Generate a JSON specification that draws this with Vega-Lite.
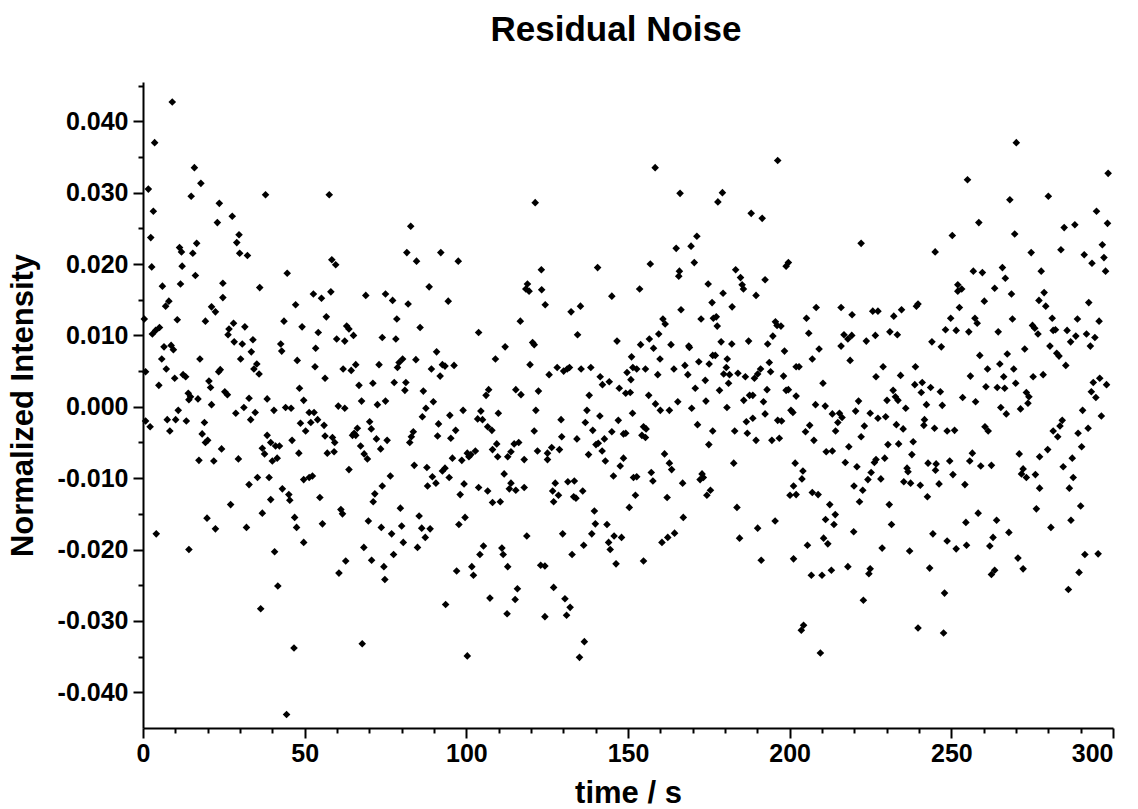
{
"$schema":"https://vega.github.io/schema/vega-lite/v6.json",
"autosize":{"type":"none"},
"padding":{"left":143,"top":82,"right":25,"bottom":81},
"width":970,"height":646,
"background":"white",
"config":{"view":{"stroke":null},"font":"Liberation Sans"},
"title":{"text":"Residual Noise","font":"Liberation Sans","fontSize":35,"fontWeight":"bold","color":"black","anchor":"middle","offset":26,"dx":-12},
"data":{"values":[
{"t":9.05,"v":0.0427},{"t":3.6,"v":0.037},{"t":15.9,"v":0.0335},{"t":17.9,"v":0.0313},{"t":14.9,"v":0.0295},{"t":1.65,"v":0.0305},{"t":23.6,"v":0.0285},{"t":3.2,"v":0.0274},{"t":23.0,"v":0.0258},{"t":2.4,"v":0.0237},{"t":11.3,"v":0.0223},{"t":11.9,"v":0.0217},{"t":16.6,"v":0.0229},{"t":15.4,"v":0.0215},{"t":2.7,"v":0.0196},{"t":12.1,"v":0.0197},{"t":16.2,"v":0.0184},{"t":11.6,"v":0.0172},{"t":6.0,"v":0.0169},{"t":24.7,"v":0.0173},{"t":24.7,"v":0.0153},{"t":8.0,"v":0.0148},{"t":7.0,"v":0.0141},{"t":21.2,"v":0.014},{"t":22.4,"v":0.0133},{"t":0.4,"v":0.0123},{"t":10.6,"v":0.0122},{"t":19.3,"v":0.012},{"t":5.1,"v":0.0111},{"t":3.9,"v":0.0107},{"t":2.9,"v":0.0102},{"t":6.5,"v":0.0084},{"t":8.7,"v":0.0086},{"t":9.4,"v":0.008},{"t":5.8,"v":0.0067},{"t":17.6,"v":0.0067},{"t":7.2,"v":0.0053},{"t":23.9,"v":0.0052},{"t":23.4,"v":0.0049},{"t":0.8,"v":0.0049},{"t":12.4,"v":0.0045},{"t":13.2,"v":0.0042},{"t":9.8,"v":0.004},{"t":4.9,"v":0.003},{"t":20.4,"v":0.0036},{"t":20.9,"v":0.0027},{"t":25.3,"v":0.0021},{"t":14.0,"v":0.0019},{"t":14.7,"v":0.0014},{"t":14.2,"v":0.001},{"t":17.0,"v":0.0011},{"t":21.2,"v":0.0003},{"t":10.9,"v":-0.0005},{"t":7.5,"v":-0.0018},{"t":10.1,"v":-0.0018},{"t":13.4,"v":-0.002},{"t":0.8,"v":-0.002},{"t":2.2,"v":-0.0028},{"t":8.3,"v":-0.0034},{"t":19.0,"v":-0.0022},{"t":18.3,"v":-0.0038},{"t":19.3,"v":-0.005},{"t":20.0,"v":-0.0047},{"t":24.3,"v":-0.0059},{"t":17.3,"v":-0.0075},{"t":21.9,"v":-0.0076},{"t":19.8,"v":-0.0156},{"t":22.4,"v":-0.0171},{"t":4.1,"v":-0.0178},{"t":14.2,"v":-0.02},
{"t":37.9,"v":0.0297},{"t":27.6,"v":0.0267},{"t":29.7,"v":0.0241},{"t":29.0,"v":0.023},{"t":29.9,"v":0.0215},{"t":32.3,"v":0.0212},{"t":44.6,"v":0.0187},{"t":36.1,"v":0.0167},{"t":47.2,"v":0.0143},{"t":43.6,"v":0.012},{"t":49.2,"v":0.0112},{"t":28.0,"v":0.0117},{"t":26.6,"v":0.0109},{"t":26.3,"v":0.0101},{"t":31.5,"v":0.0112},{"t":28.2,"v":0.0091},{"t":30.7,"v":0.0088},{"t":34.0,"v":0.0094},{"t":33.5,"v":0.0077},{"t":42.6,"v":0.0088},{"t":42.9,"v":0.0078},{"t":30.2,"v":0.0067},{"t":47.7,"v":0.0065},{"t":35.2,"v":0.006},{"t":34.3,"v":0.0053},{"t":35.9,"v":0.0046},{"t":48.4,"v":0.0026},{"t":26.1,"v":0.0017},{"t":32.8,"v":0.0012},{"t":38.4,"v":0.0011},{"t":31.2,"v":-0.0001},{"t":28.7,"v":-0.0009},{"t":34.7,"v":-0.0008},{"t":40.5,"v":-0.0005},{"t":44.1,"v":-0.0001},{"t":45.8,"v":-0.0002},{"t":49.7,"v":0.0009},{"t":33.3,"v":-0.0018},{"t":48.7,"v":-0.0023},{"t":50.3,"v":-0.0034},{"t":38.4,"v":-0.004},{"t":39.5,"v":-0.005},{"t":41.0,"v":-0.0055},{"t":42.2,"v":-0.0055},{"t":36.9,"v":-0.0058},{"t":37.6,"v":-0.0066},{"t":40.0,"v":-0.0076},{"t":41.5,"v":-0.0072},{"t":46.1,"v":-0.0047},{"t":48.2,"v":-0.0065},{"t":29.5,"v":-0.0073},{"t":49.7,"v":-0.0102},{"t":35.4,"v":-0.0099},{"t":39.0,"v":-0.0099},{"t":32.8,"v":-0.0109},{"t":43.1,"v":-0.0115},{"t":45.1,"v":-0.0123},{"t":45.4,"v":-0.0131},{"t":39.5,"v":-0.013},{"t":27.1,"v":-0.0137},{"t":36.9,"v":-0.0149},{"t":46.9,"v":-0.0155},{"t":47.5,"v":-0.0169},{"t":32.0,"v":-0.0169},{"t":49.7,"v":-0.019},{"t":40.7,"v":-0.0203},{"t":41.7,"v":-0.0251},{"t":36.4,"v":-0.0283},{"t":46.7,"v":-0.0338},{"t":44.4,"v":-0.0431},
{"t":57.6,"v":0.0297},{"t":58.4,"v":0.0206},{"t":59.6,"v":0.0199},{"t":52.7,"v":0.0158},{"t":55.2,"v":0.0152},{"t":58.1,"v":0.0161},{"t":68.9,"v":0.0156},{"t":75.0,"v":0.0158},{"t":56.7,"v":0.0126},{"t":54.2,"v":0.0104},{"t":63.0,"v":0.0113},{"t":63.7,"v":0.0109},{"t":65.1,"v":0.01},{"t":59.9,"v":0.0095},{"t":62.4,"v":0.0092},{"t":74.0,"v":0.0097},{"t":53.4,"v":0.0082},{"t":53.2,"v":0.0056},{"t":56.3,"v":0.004},{"t":61.9,"v":0.0053},{"t":64.4,"v":0.0051},{"t":65.8,"v":0.0059},{"t":73.0,"v":0.0059},{"t":66.8,"v":0.003},{"t":71.1,"v":0.0033},{"t":67.6,"v":0.0008},{"t":72.5,"v":0.0003},{"t":75.0,"v":0.0008},{"t":60.4,"v":0.0001},{"t":62.4,"v":-0.0002},{"t":51.4,"v":-0.0008},{"t":52.9,"v":-0.0008},{"t":54.0,"v":-0.0018},{"t":51.9,"v":-0.0022},{"t":56.0,"v":-0.0026},{"t":70.1,"v":-0.0021},{"t":70.6,"v":-0.0031},{"t":66.3,"v":-0.003},{"t":65.3,"v":-0.0037},{"t":64.8,"v":-0.004},{"t":65.8,"v":-0.004},{"t":56.3,"v":-0.0041},{"t":58.6,"v":-0.0043},{"t":59.3,"v":-0.005},{"t":59.1,"v":-0.0063},{"t":57.0,"v":-0.0065},{"t":72.2,"v":-0.0045},{"t":73.5,"v":-0.0059},{"t":67.3,"v":-0.0055},{"t":68.4,"v":-0.0066},{"t":69.4,"v":-0.0073},{"t":75.5,"v":-0.0047},{"t":63.7,"v":-0.0088},{"t":51.4,"v":-0.0099},{"t":52.4,"v":-0.0097},{"t":74.0,"v":-0.0111},{"t":71.7,"v":-0.0122},{"t":71.2,"v":-0.0133},{"t":54.7,"v":-0.0127},{"t":61.2,"v":-0.0144},{"t":61.7,"v":-0.015},{"t":69.7,"v":-0.016},{"t":73.7,"v":-0.0169},{"t":55.5,"v":-0.0164},{"t":68.3,"v":-0.0197},{"t":62.7,"v":-0.0216},{"t":70.7,"v":-0.0215},{"t":60.6,"v":-0.0233},{"t":74.5,"v":-0.0224},{"t":74.8,"v":-0.0242},{"t":67.8,"v":-0.0332},
{"t":82.8,"v":0.0253},{"t":81.6,"v":0.0216},{"t":84.6,"v":0.0204},{"t":92.1,"v":0.0216},{"t":97.5,"v":0.0204},{"t":88.5,"v":0.0168},{"t":94.4,"v":0.0148},{"t":77.2,"v":0.0149},{"t":82.0,"v":0.0144},{"t":78.5,"v":0.0123},{"t":85.7,"v":0.0111},{"t":78.2,"v":0.0095},{"t":90.8,"v":0.0077},{"t":80.3,"v":0.0067},{"t":79.2,"v":0.0062},{"t":78.7,"v":0.0055},{"t":84.4,"v":0.0066},{"t":89.2,"v":0.0053},{"t":91.9,"v":0.0043},{"t":92.6,"v":0.0059},{"t":93.4,"v":0.0057},{"t":96.2,"v":0.0058},{"t":77.7,"v":0.0034},{"t":81.3,"v":0.0034},{"t":81.0,"v":0.0023},{"t":86.7,"v":0.0022},{"t":89.8,"v":0.0007},{"t":87.5,"v":-0.0002},{"t":86.4,"v":-0.0014},{"t":99.0,"v":-0.0005},{"t":94.9,"v":-0.0012},{"t":91.4,"v":-0.0024},{"t":96.7,"v":-0.0033},{"t":91.1,"v":-0.0041},{"t":95.2,"v":-0.0044},{"t":83.6,"v":-0.0035},{"t":83.0,"v":-0.0042},{"t":82.5,"v":-0.005},{"t":100.3,"v":-0.0065},{"t":100.8,"v":-0.007},{"t":95.7,"v":-0.0072},{"t":98.6,"v":-0.0075},{"t":83.9,"v":-0.0082},{"t":87.8,"v":-0.0085},{"t":93.4,"v":-0.0086},{"t":92.6,"v":-0.009},{"t":89.5,"v":-0.0098},{"t":76.5,"v":-0.0097},{"t":94.7,"v":-0.0099},{"t":88.0,"v":-0.0111},{"t":90.6,"v":-0.0107},{"t":99.3,"v":-0.0108},{"t":98.1,"v":-0.0123},{"t":79.6,"v":-0.0142},{"t":85.4,"v":-0.0153},{"t":99.6,"v":-0.0155},{"t":97.7,"v":-0.0165},{"t":80.0,"v":-0.0167},{"t":86.2,"v":-0.017},{"t":88.8,"v":-0.0171},{"t":87.3,"v":-0.0183},{"t":76.9,"v":-0.0178},{"t":80.5,"v":-0.019},{"t":84.9,"v":-0.0197},{"t":77.5,"v":-0.0207},{"t":97.0,"v":-0.023},{"t":93.6,"v":-0.0277},{"t":100.3,"v":-0.0349},
{"t":121.3,"v":0.0286},{"t":123.2,"v":0.0192},{"t":118.9,"v":0.0172},{"t":118.4,"v":0.0165},{"t":119.4,"v":0.0162},{"t":123.3,"v":0.0164},{"t":124.4,"v":0.0143},{"t":116.7,"v":0.012},{"t":103.8,"v":0.0104},{"t":112.0,"v":0.0084},{"t":120.5,"v":0.009},{"t":121.0,"v":0.0087},{"t":109.0,"v":0.0067},{"t":119.7,"v":0.0059},{"t":125.6,"v":0.0045},{"t":106.9,"v":0.0024},{"t":106.1,"v":0.0016},{"t":115.3,"v":0.0024},{"t":116.9,"v":0.0017},{"t":122.3,"v":0.0022},{"t":104.5,"v":-0.0006},{"t":103.5,"v":-0.0017},{"t":105.0,"v":-0.0018},{"t":109.9,"v":-0.0009},{"t":121.5,"v":-0.0005},{"t":106.6,"v":-0.0028},{"t":107.9,"v":-0.0033},{"t":121.0,"v":-0.0034},{"t":109.4,"v":-0.0052},{"t":114.8,"v":-0.0052},{"t":116.2,"v":-0.005},{"t":101.4,"v":-0.0067},{"t":102.8,"v":-0.0062},{"t":108.1,"v":-0.006},{"t":109.7,"v":-0.007},{"t":113.8,"v":-0.0063},{"t":112.8,"v":-0.007},{"t":117.9,"v":-0.0074},{"t":122.0,"v":-0.0062},{"t":125.1,"v":-0.0065},{"t":125.1,"v":-0.0074},{"t":111.7,"v":-0.0094},{"t":113.8,"v":-0.0107},{"t":113.3,"v":-0.0115},{"t":115.3,"v":-0.0117},{"t":117.9,"v":-0.0113},{"t":103.8,"v":-0.0113},{"t":106.6,"v":-0.0118},{"t":108.1,"v":-0.0134},{"t":110.5,"v":-0.0133},{"t":118.7,"v":-0.0181},{"t":105.3,"v":-0.0195},{"t":104.2,"v":-0.0207},{"t":111.0,"v":-0.0198},{"t":111.4,"v":-0.0207},{"t":101.7,"v":-0.0224},{"t":102.2,"v":-0.0236},{"t":112.8,"v":-0.0224},{"t":123.0,"v":-0.0222},{"t":124.3,"v":-0.0223},{"t":115.8,"v":-0.0255},{"t":115.1,"v":-0.027},{"t":107.3,"v":-0.0268},{"t":112.6,"v":-0.029},{"t":124.3,"v":-0.0294},
{"t":140.6,"v":0.0195},{"t":145.0,"v":0.0155},{"t":132.4,"v":0.0133},{"t":135.3,"v":0.0141},{"t":134.4,"v":0.0101},{"t":146.6,"v":0.0092},{"t":151.1,"v":0.007},{"t":128.1,"v":0.0055},{"t":130.1,"v":0.005},{"t":131.2,"v":0.0053},{"t":131.9,"v":0.0055},{"t":135.5,"v":0.0053},{"t":138.5,"v":0.0055},{"t":141.4,"v":0.0042},{"t":142.1,"v":0.0031},{"t":144.2,"v":0.0035},{"t":149.7,"v":0.0048},{"t":150.9,"v":0.0038},{"t":147.3,"v":0.0026},{"t":149.3,"v":0.0019},{"t":150.7,"v":0.002},{"t":138.0,"v":0.0016},{"t":137.3,"v":-0.0005},{"t":141.3,"v":-0.0013},{"t":129.3,"v":-0.0018},{"t":151.4,"v":-0.0009},{"t":136.8,"v":-0.0022},{"t":139.1,"v":-0.0033},{"t":147.0,"v":-0.0019},{"t":145.0,"v":-0.0035},{"t":148.6,"v":-0.0038},{"t":149.3,"v":-0.0037},{"t":129.5,"v":-0.0042},{"t":134.2,"v":-0.0045},{"t":142.7,"v":-0.0045},{"t":140.1,"v":-0.0053},{"t":140.8,"v":-0.0051},{"t":142.0,"v":-0.0062},{"t":126.4,"v":-0.0057},{"t":128.8,"v":-0.006},{"t":137.8,"v":-0.0067},{"t":143.0,"v":-0.0076},{"t":148.6,"v":-0.0072},{"t":147.6,"v":-0.0083},{"t":145.5,"v":-0.0097},{"t":127.5,"v":-0.0107},{"t":126.7,"v":-0.0118},{"t":128.5,"v":-0.0124},{"t":127.0,"v":-0.0133},{"t":131.4,"v":-0.0105},{"t":133.4,"v":-0.0104},{"t":133.2,"v":-0.0126},{"t":133.9,"v":-0.0128},{"t":136.0,"v":-0.0118},{"t":151.7,"v":-0.0099},{"t":150.4,"v":-0.0141},{"t":139.6,"v":-0.0146},{"t":139.9,"v":-0.0164},{"t":138.8,"v":-0.0178},{"t":143.5,"v":-0.0165},{"t":129.8,"v":-0.0178},{"t":144.0,"v":-0.019},{"t":144.5,"v":-0.02},{"t":145.7,"v":-0.0181},{"t":148.0,"v":-0.0183},{"t":136.3,"v":-0.0194},{"t":132.7,"v":-0.0207},{"t":146.3,"v":-0.022},{"t":127.0,"v":-0.0253},{"t":130.5,"v":-0.0269},{"t":132.1,"v":-0.0281},{"t":131.0,"v":-0.0292},{"t":136.5,"v":-0.0329},{"t":135.0,"v":-0.0351},
{"t":158.4,"v":0.0335},{"t":166.1,"v":0.0299},{"t":171.3,"v":0.0239},{"t":164.9,"v":0.0222},{"t":169.5,"v":0.0225},{"t":170.5,"v":0.0202},{"t":156.9,"v":0.02},{"t":165.9,"v":0.019},{"t":165.7,"v":0.0183},{"t":153.6,"v":0.0165},{"t":174.8,"v":0.0172},{"t":176.0,"v":0.0146},{"t":166.4,"v":0.0136},{"t":172.6,"v":0.0123},{"t":160.8,"v":0.0123},{"t":161.5,"v":0.0116},{"t":176.4,"v":0.0124},{"t":159.5,"v":0.0102},{"t":156.6,"v":0.0095},{"t":157.9,"v":0.0082},{"t":153.9,"v":0.0087},{"t":163.3,"v":0.0087},{"t":168.8,"v":0.0085},{"t":169.0,"v":0.0083},{"t":159.9,"v":0.0067},{"t":171.9,"v":0.0063},{"t":175.1,"v":0.006},{"t":176.2,"v":0.0072},{"t":164.2,"v":0.0053},{"t":167.6,"v":0.0058},{"t":168.5,"v":0.0045},{"t":152.7,"v":0.0053},{"t":155.4,"v":0.0053},{"t":151.5,"v":0.0055},{"t":159.2,"v":0.0045},{"t":173.9,"v":0.0037},{"t":170.8,"v":0.0026},{"t":156.4,"v":0.0016},{"t":174.1,"v":0.0008},{"t":158.5,"v":0.0004},{"t":160.0,"v":-0.0005},{"t":162.8,"v":-0.0005},{"t":165.4,"v":0.0007},{"t":169.7,"v":-0.0002},{"t":171.5,"v":-0.0025},{"t":176.2,"v":-0.0034},{"t":154.8,"v":-0.0028},{"t":155.6,"v":-0.0031},{"t":154.3,"v":-0.004},{"t":155.4,"v":-0.0043},{"t":175.0,"v":-0.0053},{"t":161.3,"v":-0.0066},{"t":162.8,"v":-0.0079},{"t":163.5,"v":-0.0088},{"t":152.7,"v":-0.0098},{"t":157.2,"v":-0.0092},{"t":157.7,"v":-0.0104},{"t":172.9,"v":-0.0094},{"t":172.3,"v":-0.0102},{"t":173.3,"v":-0.0099},{"t":166.9,"v":-0.0107},{"t":175.5,"v":-0.0117},{"t":174.4,"v":-0.0124},{"t":152.3,"v":-0.0124},{"t":162.1,"v":-0.0127},{"t":167.1,"v":-0.0155},{"t":164.4,"v":-0.0177},{"t":162.3,"v":-0.0183},{"t":160.5,"v":-0.019},{"t":154.8,"v":-0.0216},
{"t":196.3,"v":0.0345},{"t":179.2,"v":0.03},{"t":177.8,"v":0.0287},{"t":188.1,"v":0.0271},{"t":191.5,"v":0.0264},{"t":199.6,"v":0.0202},{"t":198.9,"v":0.0197},{"t":183.3,"v":0.0192},{"t":184.8,"v":0.0181},{"t":185.3,"v":0.0171},{"t":185.7,"v":0.0165},{"t":192.4,"v":0.0178},{"t":179.4,"v":0.0159},{"t":189.6,"v":0.0156},{"t":182.2,"v":0.014},{"t":177.3,"v":0.0126},{"t":177.6,"v":0.0113},{"t":195.6,"v":0.0119},{"t":196.1,"v":0.0114},{"t":197.3,"v":0.0113},{"t":194.8,"v":0.0099},{"t":178.8,"v":0.0091},{"t":182.1,"v":0.0088},{"t":187.3,"v":0.0092},{"t":193.2,"v":0.0088},{"t":198.4,"v":0.0078},{"t":177.0,"v":0.0072},{"t":180.7,"v":0.0067},{"t":193.7,"v":0.0062},{"t":180.4,"v":0.0055},{"t":179.6,"v":0.0046},{"t":181.4,"v":0.0045},{"t":184.0,"v":0.0047},{"t":186.3,"v":0.0042},{"t":189.1,"v":0.004},{"t":190.1,"v":0.0046},{"t":191.0,"v":0.0053},{"t":194.1,"v":0.0049},{"t":198.1,"v":0.0043},{"t":202.0,"v":0.0056},{"t":181.1,"v":0.0033},{"t":178.3,"v":0.0023},{"t":193.0,"v":0.0024},{"t":198.9,"v":0.0023},{"t":199.6,"v":0.0024},{"t":185.8,"v":0.0009},{"t":187.6,"v":0.0016},{"t":188.6,"v":0.0016},{"t":191.9,"v":0.0007},{"t":202.0,"v":0.0015},{"t":180.6,"v":-0.0001},{"t":200.4,"v":-0.0005},{"t":201.0,"v":-0.0008},{"t":192.4,"v":-0.001},{"t":188.6,"v":-0.0016},{"t":186.6,"v":-0.0021},{"t":196.3,"v":-0.0019},{"t":197.5,"v":-0.002},{"t":183.0,"v":-0.0034},{"t":186.9,"v":-0.0037},{"t":189.6,"v":-0.0047},{"t":194.5,"v":-0.0047},{"t":196.8,"v":-0.0044},{"t":182.7,"v":-0.0079},{"t":201.7,"v":-0.0079},{"t":201.2,"v":-0.0111},{"t":200.1,"v":-0.0124},{"t":202.0,"v":-0.0123},{"t":183.7,"v":-0.0141},{"t":195.5,"v":-0.016},{"t":190.1,"v":-0.017},{"t":184.5,"v":-0.0184},{"t":191.2,"v":-0.0215},{"t":201.2,"v":-0.0213},
{"t":222.1,"v":0.0229},{"t":208.2,"v":0.0139},{"t":215.9,"v":0.0139},{"t":205.2,"v":0.0124},{"t":219.3,"v":0.0129},{"t":225.7,"v":0.0134},{"t":227.3,"v":0.0134},{"t":205.9,"v":0.0103},{"t":216.8,"v":0.0101},{"t":218.0,"v":0.0095},{"t":219.2,"v":0.01},{"t":215.9,"v":0.0085},{"t":223.7,"v":0.0092},{"t":226.5,"v":0.01},{"t":209.1,"v":0.0081},{"t":207.0,"v":0.0067},{"t":218.7,"v":0.0065},{"t":202.9,"v":0.0056},{"t":226.7,"v":0.0042},{"t":210.3,"v":0.0033},{"t":221.3,"v":0.0008},{"t":220.4,"v":-0.0006},{"t":208.0,"v":0.0003},{"t":211.0,"v":0.0001},{"t":213.2,"v":-0.001},{"t":215.4,"v":-0.0009},{"t":216.2,"v":-0.0015},{"t":214.9,"v":-0.0022},{"t":214.2,"v":-0.0034},{"t":224.9,"v":-0.0009},{"t":227.3,"v":-0.0016},{"t":206.2,"v":-0.0026},{"t":204.9,"v":-0.0035},{"t":223.1,"v":-0.0027},{"t":207.5,"v":-0.0047},{"t":222.1,"v":-0.0042},{"t":211.3,"v":-0.0063},{"t":213.2,"v":-0.0062},{"t":218.3,"v":-0.0056},{"t":217.2,"v":-0.0078},{"t":220.8,"v":-0.0084},{"t":226.2,"v":-0.0078},{"t":226.7,"v":-0.0074},{"t":225.2,"v":-0.0092},{"t":224.2,"v":-0.0102},{"t":204.1,"v":-0.009},{"t":203.8,"v":-0.0101},{"t":219.9,"v":-0.0111},{"t":222.6,"v":-0.0117},{"t":207.0,"v":-0.012},{"t":208.8,"v":-0.0123},{"t":221.6,"v":-0.0133},{"t":212.4,"v":-0.0137},{"t":214.1,"v":-0.0151},{"t":213.7,"v":-0.0165},{"t":211.1,"v":-0.0158},{"t":219.8,"v":-0.0175},{"t":210.5,"v":-0.0184},{"t":211.8,"v":-0.0192},{"t":205.5,"v":-0.0194},{"t":218.0,"v":-0.0224},{"t":224.9,"v":-0.0227},{"t":224.5,"v":-0.0234},{"t":206.7,"v":-0.0236},{"t":210.0,"v":-0.0236},{"t":212.9,"v":-0.0229},{"t":222.8,"v":-0.0271},{"t":204.3,"v":-0.0306},{"t":203.6,"v":-0.0313},{"t":209.5,"v":-0.0345},
{"t":250.3,"v":0.024},{"t":245.0,"v":0.0217},{"t":252.0,"v":0.0171},{"t":252.0,"v":0.0162},{"t":239.7,"v":0.0144},{"t":239.2,"v":0.0141},{"t":252.5,"v":0.0139},{"t":234.6,"v":0.0136},{"t":232.2,"v":0.0127},{"t":249.8,"v":0.0124},{"t":248.2,"v":0.0108},{"t":251.5,"v":0.0107},{"t":231.0,"v":0.0105},{"t":233.3,"v":0.0101},{"t":244.0,"v":0.0091},{"t":246.9,"v":0.0084},{"t":228.9,"v":0.0056},{"t":238.9,"v":0.0056},{"t":234.3,"v":0.0044},{"t":238.7,"v":0.0031},{"t":241.0,"v":0.0034},{"t":240.7,"v":0.002},{"t":243.6,"v":0.0027},{"t":246.6,"v":0.0021},{"t":232.0,"v":0.0023},{"t":232.7,"v":0.0014},{"t":233.5,"v":0.0009},{"t":230.1,"v":0.0009},{"t":242.3,"v":0.0003},{"t":247.2,"v":0.0002},{"t":235.9,"v":-0.0002},{"t":229.7,"v":-0.0014},{"t":241.7,"v":-0.0018},{"t":241.5,"v":-0.0026},{"t":233.0,"v":-0.0025},{"t":235.1,"v":-0.0031},{"t":244.8,"v":-0.003},{"t":248.7,"v":-0.0034},{"t":251.0,"v":-0.0033},{"t":238.2,"v":-0.0049},{"t":230.4,"v":-0.0053},{"t":233.7,"v":-0.0052},{"t":237.8,"v":-0.0067},{"t":229.4,"v":-0.0072},{"t":242.8,"v":-0.0079},{"t":245.3,"v":-0.008},{"t":245.1,"v":-0.0089},{"t":249.5,"v":-0.0076},{"t":236.3,"v":-0.0086},{"t":236.6,"v":-0.0091},{"t":250.5,"v":-0.0095},{"t":228.2,"v":-0.0101},{"t":235.3,"v":-0.0105},{"t":237.4,"v":-0.0107},{"t":240.4,"v":-0.011},{"t":246.2,"v":-0.0108},{"t":242.6,"v":-0.0126},{"t":230.8,"v":-0.0137},{"t":231.5,"v":-0.0165},{"t":244.3,"v":-0.0178},{"t":248.7,"v":-0.0188},{"t":251.5,"v":-0.0199},{"t":228.6,"v":-0.0198},{"t":237.1,"v":-0.0202},{"t":243.3,"v":-0.0226},{"t":247.9,"v":-0.0261},{"t":239.7,"v":-0.031},{"t":247.6,"v":-0.0317},
{"t":270.1,"v":0.037},{"t":255.0,"v":0.0318},{"t":268.1,"v":0.029},{"t":258.5,"v":0.0258},{"t":269.6,"v":0.0242},{"t":274.7,"v":0.0216},{"t":256.8,"v":0.019},{"t":259.6,"v":0.0188},{"t":265.8,"v":0.0195},{"t":266.7,"v":0.018},{"t":253.2,"v":0.0165},{"t":263.4,"v":0.0166},{"t":277.8,"v":0.019},{"t":268.6,"v":0.0158},{"t":260.2,"v":0.0148},{"t":277.1,"v":0.0149},{"t":257.3,"v":0.0124},{"t":258.0,"v":0.0117},{"t":255.4,"v":0.0105},{"t":264.5,"v":0.0105},{"t":268.9,"v":0.0123},{"t":275.1,"v":0.0114},{"t":275.8,"v":0.011},{"t":276.8,"v":0.0102},{"t":272.7,"v":0.0081},{"t":258.8,"v":0.0072},{"t":267.3,"v":0.0074},{"t":261.2,"v":0.0053},{"t":265.0,"v":0.006},{"t":269.3,"v":0.0053},{"t":255.9,"v":0.0043},{"t":266.2,"v":0.0042},{"t":269.9,"v":0.0033},{"t":260.7,"v":0.0028},{"t":264.2,"v":0.0027},{"t":266.5,"v":0.0026},{"t":275.3,"v":0.0042},{"t":273.2,"v":0.002},{"t":274.0,"v":0.0014},{"t":273.7,"v":0.0005},{"t":253.5,"v":0.0013},{"t":257.5,"v":0.0007},{"t":265.3,"v":-0.0001},{"t":271.4,"v":-0.0003},{"t":267.0,"v":-0.001},{"t":260.4,"v":-0.0028},{"t":261.4,"v":-0.0034},{"t":256.5,"v":-0.0065},{"t":255.7,"v":-0.0076},{"t":271.0,"v":-0.0066},{"t":277.3,"v":-0.007},{"t":259.1,"v":-0.0083},{"t":262.4,"v":-0.0082},{"t":272.2,"v":-0.0087},{"t":271.7,"v":-0.0094},{"t":273.2,"v":-0.0099},{"t":276.0,"v":-0.0095},{"t":277.3,"v":-0.0114},{"t":254.2,"v":-0.0109},{"t":276.3,"v":-0.0143},{"t":258.3,"v":-0.0149},{"t":254.5,"v":-0.0162},{"t":264.0,"v":-0.0159},{"t":267.8,"v":-0.0176},{"t":262.9,"v":-0.0183},{"t":261.9,"v":-0.0195},{"t":254.7,"v":-0.0194},{"t":270.6,"v":-0.0212},{"t":272.2,"v":-0.0227},{"t":263.4,"v":-0.0229},{"t":262.4,"v":-0.0235},
{"t":298.5,"v":0.0327},{"t":280.0,"v":0.0295},{"t":294.9,"v":0.0274},{"t":284.9,"v":0.0251},{"t":288.2,"v":0.0255},{"t":298.3,"v":0.0257},{"t":283.9,"v":0.022},{"t":291.1,"v":0.0213},{"t":293.5,"v":0.0201},{"t":296.7,"v":0.0227},{"t":297.2,"v":0.0209},{"t":297.7,"v":0.019},{"t":278.7,"v":0.016},{"t":279.2,"v":0.0141},{"t":292.5,"v":0.0146},{"t":281.2,"v":0.0124},{"t":289.0,"v":0.0123},{"t":295.7,"v":0.012},{"t":281.5,"v":0.0107},{"t":282.2,"v":0.0108},{"t":285.8,"v":0.0107},{"t":286.9,"v":0.0091},{"t":288.5,"v":0.0099},{"t":291.8,"v":0.0102},{"t":294.4,"v":0.0097},{"t":293.0,"v":0.0085},{"t":280.5,"v":0.0085},{"t":282.6,"v":0.0075},{"t":283.3,"v":0.0071},{"t":285.4,"v":0.0058},{"t":278.4,"v":0.0045},{"t":293.9,"v":0.0034},{"t":295.9,"v":0.004},{"t":298.0,"v":0.0031},{"t":293.3,"v":0.0021},{"t":294.7,"v":0.0013},{"t":296.4,"v":-0.0013},{"t":290.6,"v":-0.0005},{"t":292.3,"v":-0.003},{"t":289.2,"v":-0.0037},{"t":284.3,"v":-0.0019},{"t":283.6,"v":-0.0027},{"t":282.9,"v":-0.0042},{"t":281.5,"v":-0.0034},{"t":290.3,"v":-0.0056},{"t":279.8,"v":-0.006},{"t":287.4,"v":-0.0072},{"t":284.6,"v":-0.0084},{"t":287.7,"v":-0.0099},{"t":286.5,"v":-0.0114},{"t":290.0,"v":-0.0139},{"t":287.0,"v":-0.0159},{"t":280.8,"v":-0.0169},{"t":291.3,"v":-0.0207},{"t":295.4,"v":-0.0206},{"t":289.5,"v":-0.0232},{"t":286.2,"v":-0.0256}
]},
"mark":{"type":"point","shape":"diamond","filled":true,"color":"black","opacity":1,"size":58},
"encoding":{
"x":{"field":"t","type":"quantitative","scale":{"domain":[0,300],"nice":false,"zero":false},
"axis":{"title":"time / s","values":[0,10,20,30,40,50,60,70,80,90,100,110,120,130,140,150,160,170,180,190,200,210,220,230,240,250,260,270,280,290,300],
"labelExpr":"datum.value % 50 === 0 ? datum.label : ''","labelFlush":false,"labelOverlap":false,"grid":false,
"labelAlign":{"condition":{"test":"datum.value === 300","value":"right"},"value":"center"},
"tickSize":{"condition":{"test":"datum.value % 50 === 0","value":10},"value":5},
"domainColor":"black","domainWidth":2,"tickColor":"black","tickWidth":2,
"labelFont":"Liberation Sans","labelFontWeight":"bold","labelFontSize":25,"labelColor":"black","labelPadding":3,
"titleFont":"Liberation Sans","titleFontWeight":"bold","titleFontSize":31,"titleColor":"black","titlePadding":12}},
"y":{"field":"v","type":"quantitative","scale":{"domain":[-0.045,0.0455],"nice":false,"zero":false},
"axis":{"title":"Normalized Intensity","values":[-0.04,-0.035,-0.03,-0.025,-0.02,-0.015,-0.01,-0.005,0,0.005,0.01,0.015,0.02,0.025,0.03,0.035,0.04,0.045],
"labelExpr":"abs(datum.value*100 - round(datum.value*100)) < 0.001 ? replace(format(datum.value, '.3f'), '−', '-') : ''","labelOverlap":false,"labelFlush":false,"grid":false,
"tickSize":{"condition":{"test":"abs(datum.value*100 - round(datum.value*100)) < 0.001","value":10},"value":5},
"domainColor":"black","domainWidth":2,"tickColor":"black","tickWidth":2,
"labelFont":"Liberation Sans","labelFontWeight":"bold","labelFontSize":25,"labelColor":"black","labelPadding":5,
"titleFont":"Liberation Sans","titleFontWeight":"bold","titleFontSize":31,"titleColor":"black","titlePadding":18}}
}
}
